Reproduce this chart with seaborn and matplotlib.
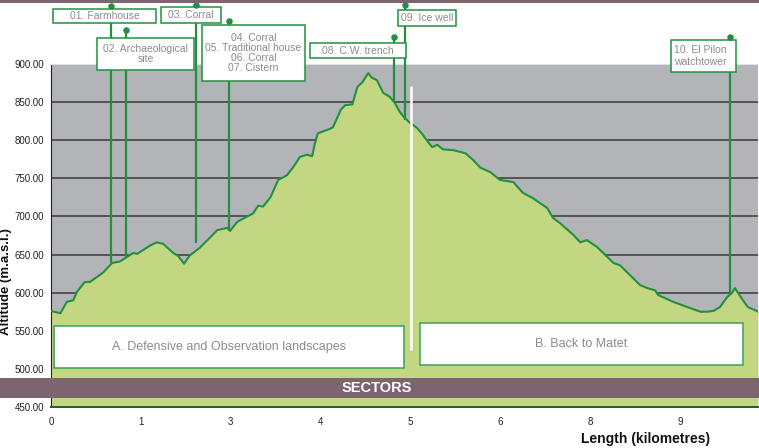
import numpy as np
import pandas as pd
import matplotlib
matplotlib.use("Agg")
import matplotlib.pyplot as plt
from matplotlib.patches import Rectangle
import seaborn as sns

# Elevation profile (km, m a.s.l.)
dist_km = [0.00, 0.13, 0.22, 0.31, 0.36, 0.47, 0.54, 0.72, 0.85, 0.96,
           1.14, 1.20, 1.38, 1.47, 1.56, 1.70, 1.77, 1.85, 1.93, 1.96,
           2.07, 2.25, 2.31, 2.45, 2.49, 2.59, 2.81, 2.88, 2.95, 3.05,
           3.16, 3.28, 3.37, 3.46, 3.56, 3.63, 3.67, 3.71, 3.88, 3.92,
           4.03, 4.09, 4.19, 4.26, 4.33, 4.41, 4.46, 4.53, 4.62, 4.71,
           4.78, 4.85, 4.92, 4.99, 5.09, 5.17, 5.24, 5.30, 5.37, 5.45,
           5.59, 5.76, 5.87, 5.97, 6.11, 6.24, 6.43, 6.56, 6.70, 6.90,
           6.98, 7.08, 7.26, 7.36, 7.45, 7.59, 7.68, 7.82, 7.91, 8.05,
           8.19, 8.29, 8.40, 8.44, 8.65, 8.85, 9.03, 9.12, 9.21, 9.30,
           9.40, 9.47, 9.51, 9.55, 9.62, 9.69, 9.79, 9.83]
altitude = [576, 573, 588, 590, 601, 614, 614, 626, 639, 641,
            652, 651, 662, 666, 664, 652, 648, 638, 649, 651,
            659, 676, 682, 685, 681, 693, 704, 714, 713, 725,
            748, 754, 765, 778, 781, 779, 796, 809, 815, 817,
            840, 846, 847, 870, 876, 888, 882, 879, 862, 857,
            849, 837, 829, 823, 816, 807, 798, 791, 794, 788,
            787, 783, 774, 764, 758, 748, 745, 731, 724, 711,
            698, 691, 676, 666, 669, 660, 652, 639, 636, 623,
            610, 606, 603, 597, 588, 581, 575, 575, 576, 581,
            594, 600, 606, 600, 590, 581, 577, 575]

# Points of interest
poi_names = ["01. Farmhouse", "02. Archaeological\nsite", "03. Corral",
             "04. Corral\n05. Traditional house\n06. Corral\n07. Cistern",
             "08. C.W. trench", "09. Ice well", "10. El Pilon\nwatchtower"]
poi_km = [0.83, 1.04, 2.02, 2.48, 4.77, 4.92, 9.44]
poi_base = [639, 647, 665, 681, 850, 827, 600]
poi_top = [976, 945, 977, 956, 935, 977, 935]

sectors = ["A. Defensive and Observation landscapes", "B. Back to Matet"]
sector_split_km = 5.01

tick_pos = [0, 1.25, 2.5, 3.75, 5.0, 6.25, 7.5, 8.75]
tick_labels = ["0", "1", "3", "4", "5", "6", "8", "9"]

df = pd.DataFrame({"km": dist_km, "alt": altitude})

sns.set_style("white")
plt.rcParams["font.family"] = ["Liberation Sans", "DejaVu Sans"]

W, H = 759, 448
fig = plt.figure(figsize=(W / 100, H / 100), dpi=100)


def fx(x):
    return x / W


def fy(y):
    return 1 - y / H


ax = fig.add_axes([fx(51), fy(407), fx(758) - fx(51), fy(64) - fy(407)])

GREEN = "#21903f"
FILL = "#c3d782"
GREY_BG = "#b3b4b8"
BAND = "#7d6570"
TXT = "#8c8c8c"

ax.set_facecolor(GREY_BG)
ax.set_axisbelow(True)
ax.yaxis.grid(True, color="#3a3a3a", lw=1.1)

ax.fill_between(df["km"], 450, df["alt"], color=FILL, lw=0, zorder=2)
sns.lineplot(data=df, x="km", y="alt", ax=ax, color=GREEN, lw=1.5, zorder=3)

ax.set_xlim(0, 9.83)
ax.set_ylim(450, 900)
ax.set_yticks(np.arange(450, 901, 50))
ax.set_yticklabels([f"{v:.2f}" for v in np.arange(450, 901, 50)], fontsize=7, color="#222")
ax.set_xticks(tick_pos)
ax.set_xticklabels(tick_labels, fontsize=7, color="#222")
ax.tick_params(axis="x", length=3, width=0.8, color="#222", pad=4)
ax.tick_params(axis="y", length=3, width=0.8, color="#222", pad=2)
ax.set_xlabel("")
ax.set_ylabel("")
ax.spines["left"].set_color("#222")
ax.spines["bottom"].set_color("#1d5e30")
ax.spines["bottom"].set_linewidth(1.4)
ax.spines["top"].set_color("#e0e0e0")
ax.spines["right"].set_visible(False)

# POI stems, boxes and dots
ax.vlines(poi_km, poi_base, poi_top, color=GREEN, lw=1.6, zorder=4, clip_on=False)
ax.scatter(poi_km, poi_top, s=22, color=GREEN, zorder=7, clip_on=False, linewidths=0)

box_px = [(53, 9, 156, 23), (97, 38, 194, 70), (161, 7, 221, 23),
          (202, 25, 305, 81), (310, 43, 406, 58), (398, 10, 456, 26),
          (671, 40, 736, 72)]
for i, (name, (x0, y0, x1, y1)) in enumerate(zip(poi_names, box_px)):
    ax.add_patch(Rectangle((fx(x0), fy(y1)), fx(x1) - fx(x0), fy(y0) - fy(y1),
                           transform=fig.transFigure, facecolor="white",
                           edgecolor=GREEN, lw=1.1, zorder=5, clip_on=False))
    if i == 6:
        ax.text(fx(x0 + 3), fy((y0 + y1) / 2), name, transform=fig.transFigure,
                ha="left", va="center", fontsize=7.5, color=TXT, zorder=6,
                linespacing=1.15)
    else:
        ax.text(fx((x0 + x1) / 2), fy((y0 + y1) / 2), name, transform=fig.transFigure,
                ha="center", va="center", fontsize=7.5, color=TXT, zorder=6,
                linespacing=1.0)

# sector divider
ax.vlines(sector_split_km, 525, 871, color="white", lw=1.8, zorder=4)

# sector boxes
sector_px = [(54, 326, 404, 368), (420, 323, 743, 365)]
for name, (x0, y0, x1, y1) in zip(sectors, sector_px):
    ax.add_patch(Rectangle((fx(x0), fy(y1)), fx(x1) - fx(x0), fy(y0) - fy(y1),
                           transform=fig.transFigure, facecolor="white",
                           edgecolor="#3aa05a", lw=1.1, zorder=5, clip_on=False))
    ax.text(fx((x0 + x1) / 2), fy((y0 + y1) / 2), name, transform=fig.transFigure,
            ha="center", va="center", fontsize=9, color=TXT, zorder=6)

# SECTORS band and top band
ax.add_patch(Rectangle((0, fy(398)), 1, fy(378) - fy(398), transform=fig.transFigure,
                       facecolor=BAND, lw=0, zorder=8, clip_on=False))
ax.text(fx(377), fy(388), "SECTORS", transform=fig.transFigure, ha="center",
        va="center", fontsize=10.5, fontweight="bold", color="white", zorder=9)
fig.patches.append(Rectangle((0, fy(3)), 1, fy(0) - fy(3), transform=fig.transFigure,
                             facecolor=BAND, lw=0))

fig.text(fx(6.5), fy(282), "Altitude (m.a.s.l.)", rotation=90, ha="center",
         va="center", fontsize=9.5, fontweight="bold", color="#111")
fig.text(fx(646), fy(439), "Length (kilometres)", ha="center", va="center",
         fontsize=10, fontweight="bold", color="#111")

fig.savefig("out.png", dpi=100)
